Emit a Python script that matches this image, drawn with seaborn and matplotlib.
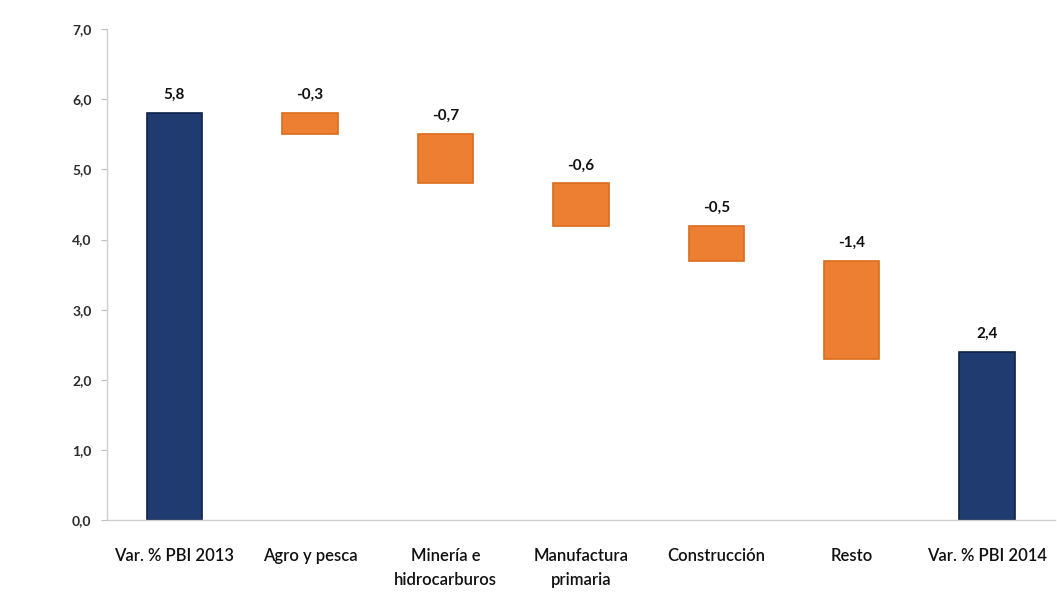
import matplotlib
matplotlib.use("Agg")
import matplotlib.pyplot as plt
import seaborn as sns
import pandas as pd

# Contribution of each sector to the change in GDP growth (percentage points)
categories = ["Var. % PBI 2013", "Agro y pesca", "Minería e\nhidrocarburos",
              "Manufactura\nprimaria", "Construcción", "Resto", "Var. % PBI 2014"]
values = [5.8, -0.3, -0.7, -0.6, -0.5, -1.4, 2.4]
is_total = [True, False, False, False, False, False, True]
y_ticks = [0, 1, 2, 3, 4, 5, 6, 7]

# Floating-bar geometry: totals start at zero, sector changes hang from the running level
bottoms, heights = [], []
level = 0.0
for v, tot in zip(values, is_total):
    if tot:
        bottoms.append(0.0)
        heights.append(v)
        level = v
    else:
        bottoms.append(level + v)
        heights.append(-v)
        level += v

df = pd.DataFrame({"categoria": categories, "altura": heights})

sns.set_theme(style="white")
plt.rcParams["font.family"] = ["Lato", "DejaVu Sans"]

fig = plt.figure(figsize=(10.57, 5.95), dpi=100)
ax = fig.add_axes([0.101, 0.126, 0.897, 0.825])

sns.barplot(data=df, x="categoria", y="altura", ax=ax, width=0.41,
            color="#1F3B70", saturation=1)

blue_face, blue_edge = "#1F3B70", "#0F214A"
orange_face, orange_edge = "#EC7F31", "#DB6C1E"
for patch, b, h, tot in zip(ax.patches, bottoms, heights, is_total):
    patch.set_y(b)
    patch.set_height(h)
    if tot:
        patch.set_facecolor(blue_face)
        patch.set_edgecolor(blue_edge)
    else:
        patch.set_facecolor(orange_face)
        patch.set_edgecolor(orange_edge)
    patch.set_linewidth(1.2)

# Value labels above each bar
for i, (v, b, h) in enumerate(zip(values, bottoms, heights)):
    txt = f"{v:.1f}".replace(".", ",")
    ax.annotate(txt, (i, b + h), xytext=(0, 8), textcoords="offset points",
                ha="center", va="bottom", fontsize=11, fontweight="bold",
                color="#111111")

ax.set_ylim(0, 7)
ax.set_xlim(-0.5, 6.5)
ax.set_yticks(y_ticks)
ax.set_yticklabels([f"{t:.1f}".replace(".", ",") for t in y_ticks],
                   fontsize=10, color="#2b2b2b", fontweight="bold")
ax.set_xticks(range(len(categories)))
ax.set_xticklabels(categories, fontsize=12, color="#111111", linespacing=1.65,
                   fontweight="semibold")
ax.set_xlabel("")
ax.set_ylabel("")

for side in ["top", "right"]:
    ax.spines[side].set_visible(False)
for side in ["left", "bottom"]:
    ax.spines[side].set_color("#cfcfcf")
    ax.spines[side].set_linewidth(1.0)

ax.tick_params(axis="y", which="major", left=True, length=4, width=0.8,
               color="#bdbdbd", pad=7)
ax.tick_params(axis="x", which="major", bottom=False, pad=14)

fig.savefig("out.png", dpi=100, facecolor="white")
